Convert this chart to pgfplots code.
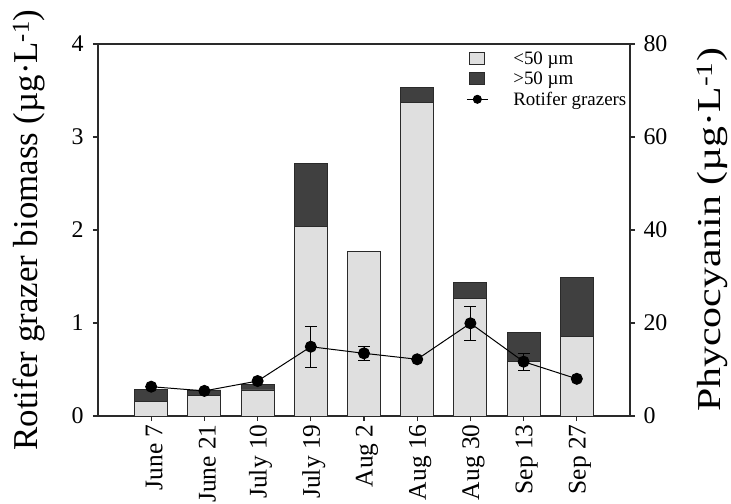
\documentclass[border=0pt]{standalone}
\usepackage{fontspec}
\setmainfont{Liberation Serif}
\usepackage{graphicx}
\usepackage{pgfplots}
\pgfplotsset{compat=1.18}
\usepackage{pgfplotstable}

\definecolor{lightbar}{HTML}{DFDFDF}
\definecolor{darkbar}{HTML}{404040}
\definecolor{spine}{HTML}{2A2A2A}

\pgfplotstableread{
x lower upper
0 3.1 2.7
1 4.5 1.1
2 5.6 1.2
3 40.7 13.6
4 35.4 0.0
5 67.5 3.1
6 25.2 3.5
7 11.8 6.1
8 17.2 12.5
}\bars

\pgfplotstableread{
x y
0 0.315
1 0.27
2 0.376
3 0.745
4 0.674
5 0.61
6 0.997
7 0.584
8 0.40
}\rotifer

\pgfplotstableread{
x y e
3 0.745 0.22
4 0.674 0.075
6 0.997 0.185
7 0.584 0.09
}\rotifererr

\begin{document}
\begin{tikzpicture}
\pgfplotsset{
  common/.style={
    scale only axis, width=532bp, height=372bp,
    at={(0,0)}, anchor=south west,
    xmin=-1, xmax=9,
    tick align=outside, major tick length=5bp,
    axis line style={spine, line width=1.2pt},
    every tick/.style={spine, line width=1.1pt},
    /pgf/number format/assume math mode=true,
    tick label style={font=\fontsize{24}{26}\selectfont},
  }
}
\begin{axis}[common,
  ymin=0, ymax=80, ytick={0,20,40,60,80},
  ytick pos=right, yticklabel pos=right,
  yticklabel style={xshift=5bp},
  xtick pos=bottom,
  xtick={0,...,8},
  xticklabels={June 7, June 21, July 10, July 19, Aug 2, Aug 16, Aug 30, Sep 13, Sep 27},
  xticklabel style={rotate=90, anchor=east, yshift=-3bp, font=\fontsize{25.5}{27}\selectfont},
  ybar stacked, bar width=0.62,
  ylabel={\scalebox{1}[0.8]{Phycocyanin (µg·L\textsuperscript{-1})}},
  ylabel style={at={(rel axis cs:1,0.5)}, anchor=center, yshift=-82bp, font=\fontsize{42}{46}\selectfont},
]
\addplot[fill=lightbar, draw=spine, line width=0.9pt, bar shift=0] table[x=x, y=lower] {\bars};
\addplot[fill=darkbar, draw=spine, line width=0.9pt, bar shift=0] table[x=x, y=upper] {\bars};
\end{axis}

\begin{axis}[common,
  ymin=0, ymax=4, ytick={0,1,2,3,4},
  axis y line*=left, hide x axis,
  yticklabel style={xshift=-6bp},
  ylabel={Rotifer grazer biomass (µg·L\textsuperscript{-1})},
  ylabel style={at={(rel axis cs:0,0.5)}, anchor=center, yshift=69bp, font=\fontsize{35}{38}\selectfont},
  legend style={draw=none, fill=none, at={(rel axis cs:0.692,0.985)}, anchor=north west,
    font=\fontsize{19}{21}\selectfont, inner xsep=0pt, inner ysep=0pt, row sep=2pt,
    cells={anchor=west}},
]
\addlegendimage{legend image code/.code={\draw[fill=lightbar, draw=spine, line width=0.8pt] (3bp,-6bp) rectangle (18bp,6bp); \path (0bp,0bp) (44bp,0bp);}}
\addlegendentry{<50 µm}
\addlegendimage{legend image code/.code={\draw[fill=darkbar, draw=spine, line width=0.8pt] (3bp,-6bp) rectangle (18bp,6bp); \path (0bp,0bp) (44bp,0bp);}}
\addlegendentry{>50 µm}
\addplot[forget plot, draw=none, mark=none,
  error bars/.cd, y dir=both, y explicit,
  error bar style={black, line width=1pt},
  error mark options={rotate=90, mark size=6bp, line width=1pt, black}]
  table[x=x, y=y, y error=e] {\rotifererr};
\addplot[black, line width=1pt, mark=*, mark size=5.5bp, mark options={fill=black},
  legend image code/.code={\draw[black, line width=1pt, mark=*, mark size=4bp, mark options={fill=black}, mark repeat=2, mark phase=2] plot coordinates {(0bp,0bp) (10.5bp,0bp) (21bp,0bp)}; \path (44bp,0bp);}]
  table[x=x, y=y] {\rotifer};
\addlegendentry{Rotifer grazers}
\end{axis}
\pgfresetboundingbox
\useasboundingbox (-98bp,-88bp) rectangle (633bp,416bp);
\end{tikzpicture}
\end{document}
